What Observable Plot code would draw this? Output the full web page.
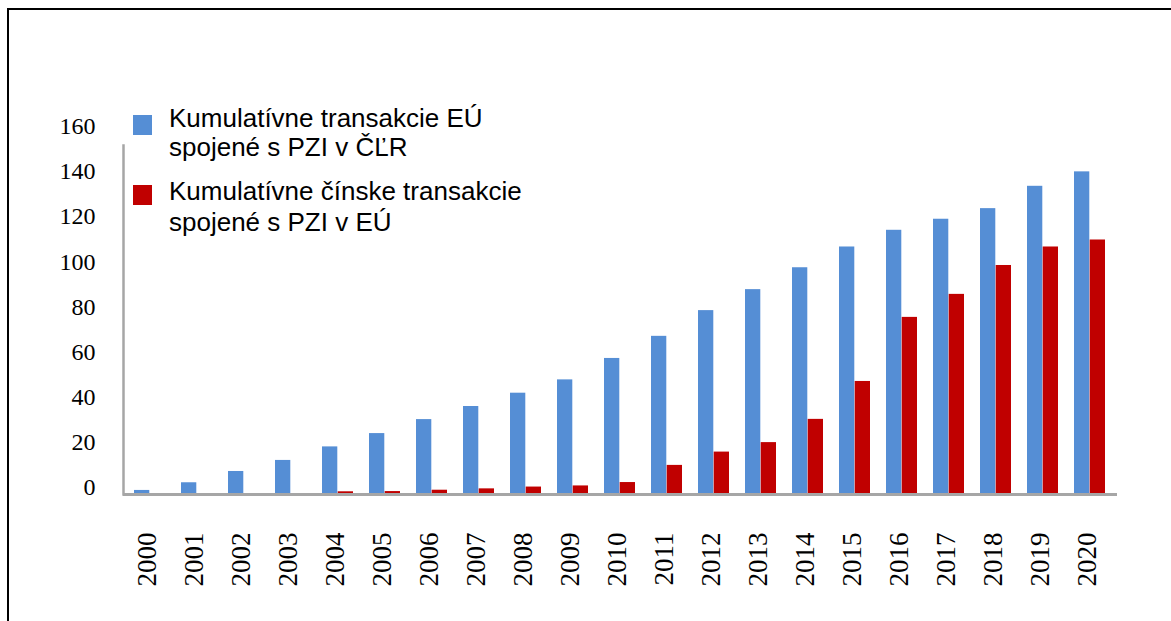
<!DOCTYPE html>
<html><head><meta charset="utf-8">
<script src="https://cdn.jsdelivr.net/npm/d3@7"></script>
<script src="https://cdn.jsdelivr.net/npm/@observablehq/plot@0.6"></script>
<style>
body{margin:0;background:#fff;}
#wrap{position:relative;width:1171px;height:621px;overflow:hidden;background:#fff;}
#border{position:absolute;left:7px;top:8px;width:1300px;height:800px;border-left:2px solid #000;border-top:2px solid #000;}
#chart{position:absolute;left:0;top:0;}
.leg{position:absolute;font-family:"Liberation Sans",Arial,sans-serif;font-size:26px;line-height:29px;color:#000;white-space:nowrap;}
.sw{position:absolute;width:19px;height:20px;}
</style></head><body>
<div id="wrap"><div id="border"></div><div id="chart"></div></div>
<script>
const years = [2000,2001,2002,2003,2004,2005,2006,2007,2008,2009,2010,2011,2012,2013,2014,2015,2016,2017,2018,2019,2020];
const euInChina = [1.8,5.2,10.2,15.1,21.1,27.0,33.2,39.0,44.9,50.8,60.3,70.1,81.5,90.8,100.5,109.7,117.1,122.0,126.7,136.6,143.0];
const chinaInEu = [0,0,0,0.3,1.2,1.3,1.9,2.5,3.3,3.8,5.3,12.9,18.8,23.0,33.3,50.1,78.5,88.7,101.5,109.7,112.8];
const seriesLines = [["Kumulatívne transakcie EÚ","spojené s PZI v ČĽR"],["Kumulatívne čínske transakcie","spojené s PZI v EÚ"]];
const seriesColors = ["#558ED5","#C00000"];
const yTicks = [0,20,40,60,80,100,120,140,160];

const W = 1171, H = 621, mL = 123, mR = 54, pIn = 0.336, pOut = 0.1755;
const step = (W - mL - mR) / (years.length - pIn + 2*pOut);
const half = step*(1-pIn)/2;
const data = years.map((y,i)=>({year:String(y), eu:euInChina[i], cn:chinaInEu[i]}));

const chart = Plot.plot({
  width:W, height:H, marginLeft:mL, marginRight:mR, marginTop:145, marginBottom:127,
  style:{background:"transparent", overflow:"visible"},
  x:{domain:years.map(String), paddingInner:pIn, paddingOuter:pOut, label:null},
  y:{domain:[0,160], range:[494,133], label:null},
  marks:[
    Plot.barY(data,{x:"year", y:"eu", fill:seriesColors[0], insetRight:half}),
    Plot.barY(data,{x:"year", y:"cn", fill:seriesColors[1], insetLeft:half}),
    Plot.frame({anchor:"left", stroke:"#a6a6a6", strokeWidth:2.5}),
    Plot.ruleY([0],{stroke:"#a6a6a6", strokeWidth:3}),
    Plot.axisY({ticks:yTicks, tickSize:0, tickPadding:28, fontSize:24, fontFamily:"Liberation Serif", dy:-7, fill:"#000", label:null}),
    Plot.axisX({tickSize:0, tickRotate:-90, tickPadding:38, fontSize:27, fontFamily:"Liberation Serif", dx:-3, fill:"#000", label:null})
  ]
});
document.getElementById("chart").appendChild(chart);

const wrap = document.getElementById("wrap");
const legPos = [{sq:115, t:[104,133]},{sq:185, t:[177,208]}];
seriesLines.forEach((lines,i)=>{
  const sw = document.createElement("div");
  sw.className = "sw"; sw.style.left = "133px"; sw.style.top = legPos[i].sq+"px";
  sw.style.background = seriesColors[i];
  wrap.appendChild(sw);
  lines.forEach((ln,j)=>{
    const d = document.createElement("div");
    d.className = "leg"; d.style.left = "169px"; d.style.top = legPos[i].t[j]+"px";
    d.textContent = ln;
    wrap.appendChild(d);
  });
});
</script>
</body></html>
